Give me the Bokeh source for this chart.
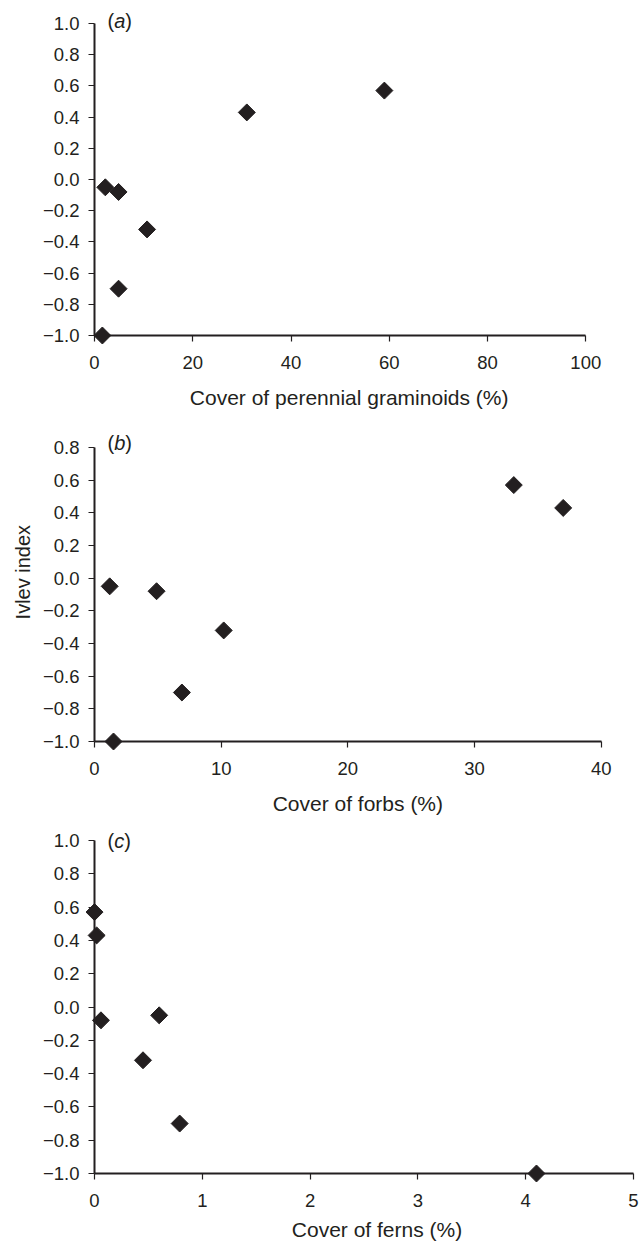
import math
from bokeh.plotting import figure
from bokeh.layouts import column
from bokeh.models import Range1d, FixedTicker, CustomJSTickFormatter
from bokeh.core.properties import value
from bokeh.embed import file_html
from bokeh.resources import INLINE

# ---------------- data ----------------
ivlev = [0.57, 0.43, -0.05, -0.08, -0.32, -0.70, -1.00]
graminoids = [59.0, 31.0, 2.2, 4.9, 10.7, 4.9, 1.6]
forbs = [33.1, 37.0, 1.2, 4.9, 10.2, 6.9, 1.5]
ferns = [0.0, 0.02, 0.60, 0.06, 0.45, 0.79, 4.10]

xticks_a = [0, 20, 40, 60, 80, 100]
xticks_b = [0, 10, 20, 30, 40]
xticks_c = [0, 1, 2, 3, 4, 5]
yticks_a = [-1.0, -0.8, -0.6, -0.4, -0.2, 0.0, 0.2, 0.4, 0.6, 0.8, 1.0]
yticks_b = [-1.0, -0.8, -0.6, -0.4, -0.2, 0.0, 0.2, 0.4, 0.6, 0.8]
yticks_c = [-1.0, -0.8, -0.6, -0.4, -0.2, 0.0, 0.2, 0.4, 0.6, 0.8, 1.0]

xtitle_a = "Cover of perennial graminoids (%)"
xtitle_b = "Cover of forbs (%)"
xtitle_c = "Cover of ferns (%)"
ytitle_b = "Ivlev index"

INK = "#231f20"
FONT = "Liberation Sans"
PAGE_W = 639
FRAME_L = 94      # common left edge of the plotting frames (px)
FRAME_R = 633     # common right edge of the plotting frames (px)


def panel(xs, xticks, xtitle, yticks, letter, ytitle,
          xmax_px, top, frame_h, bottom, s1, title_dx, title_dy, letter_dy):
    frame_w = FRAME_R - FRAME_L
    xmax = xticks[-1]
    x_end = xmax * frame_w / (xmax_px - FRAME_L)
    height = top + frame_h + bottom
    p = figure(width=PAGE_W, height=height,
               x_range=Range1d(xticks[0], x_end),
               y_range=Range1d(yticks[0], yticks[-1]),
               output_backend="svg", toolbar_location=None,
               min_border_left=FRAME_L, min_border_right=PAGE_W - FRAME_R,
               min_border_top=top, min_border_bottom=bottom)
    p.grid.visible = False
    p.outline_line_color = None
    p.background_fill_color = "white"
    p.border_fill_color = "white"

    for ax in (p.xaxis[0], p.yaxis[0]):
        ax.axis_line_color = INK
        ax.axis_line_width = 2
        ax.major_tick_line_color = INK
        ax.major_tick_line_width = 1.2
        ax.major_tick_out = 6
        ax.major_tick_in = 0
        ax.minor_tick_out = 0
        ax.minor_tick_in = 0
        ax.major_label_text_font = FONT
        ax.major_label_text_font_size = "18.5px"
        ax.major_label_text_color = INK

    p.xaxis.ticker = FixedTicker(ticks=xticks, minor_ticks=[])
    p.xaxis.bounds = (xticks[0], xmax)
    p.yaxis.ticker = FixedTicker(ticks=yticks, minor_ticks=[])
    p.yaxis.formatter = CustomJSTickFormatter(
        code="return (tick < -1e-9 ? '\u2212' : '') + Math.abs(tick).toFixed(1);")
    p.xaxis.major_label_standoff = s1
    p.yaxis.major_label_standoff = 9

    # x-axis title: placed below the axis, slightly right of the axis centre
    p.text(x=[(xticks[0] + xmax) / 2], y=[yticks[0]], text=[xtitle],
           x_offset=title_dx, y_offset=title_dy,
           text_font=value(FONT), text_font_size="21px", text_color=INK,
           text_align="center", text_baseline="middle", level="overlay")

    if ytitle:
        # y title sits a little above the frame centre in the reference
        p.text(x=[xticks[0]], y=[0.0], text=[ytitle], angle=math.pi / 2,
               x_offset=-72, y_offset=-6,
               text_font=value(FONT), text_font_size="20px", text_color=INK,
               text_align="center", text_baseline="middle", level="overlay")

    p.scatter(x=xs, y=ivlev, marker="square", angle=math.pi / 4, size=12,
              fill_color=INK, line_color=INK, level="overlay")

    # panel letter "(a)" with an italic letter, drawn unclipped
    letter_w = 11.1 if letter in "ab" else 10.0
    pieces = [("(", "normal", 13.0), (letter, "italic", 19.7), (")", "normal", 19.7 + letter_w)]
    for txt, style, dx in pieces:
        p.text(x=[xticks[0]], y=[yticks[-1]], text=[txt], x_offset=dx, y_offset=letter_dy,
               text_font=value(FONT), text_font_size="20px", text_font_style=style,
               text_color=INK, text_baseline="middle", text_align="left", level="overlay")
    return p


pa = panel(graminoids, xticks_a, xtitle_a, yticks_a, "a", None,
           xmax_px=585.3, top=23, frame_h=312, bottom=80, s1=14,
           title_dx=9, title_dy=62, letter_dy=-3)
pb = panel(forbs, xticks_b, xtitle_b, yticks_b, "b", ytitle_b,
           xmax_px=600.7, top=32, frame_h=294, bottom=80, s1=14,
           title_dx=10, title_dy=62, letter_dy=-5)
pc = panel(ferns, xticks_c, xtitle_c, yticks_c, "c", None,
           xmax_px=633.0, top=19, frame_h=333, bottom=73, s1=14,
           title_dx=13, title_dy=56, letter_dy=0)

layout = column(pa, pb, pc)
open("out.html", "w").write(file_html(layout, INLINE))
